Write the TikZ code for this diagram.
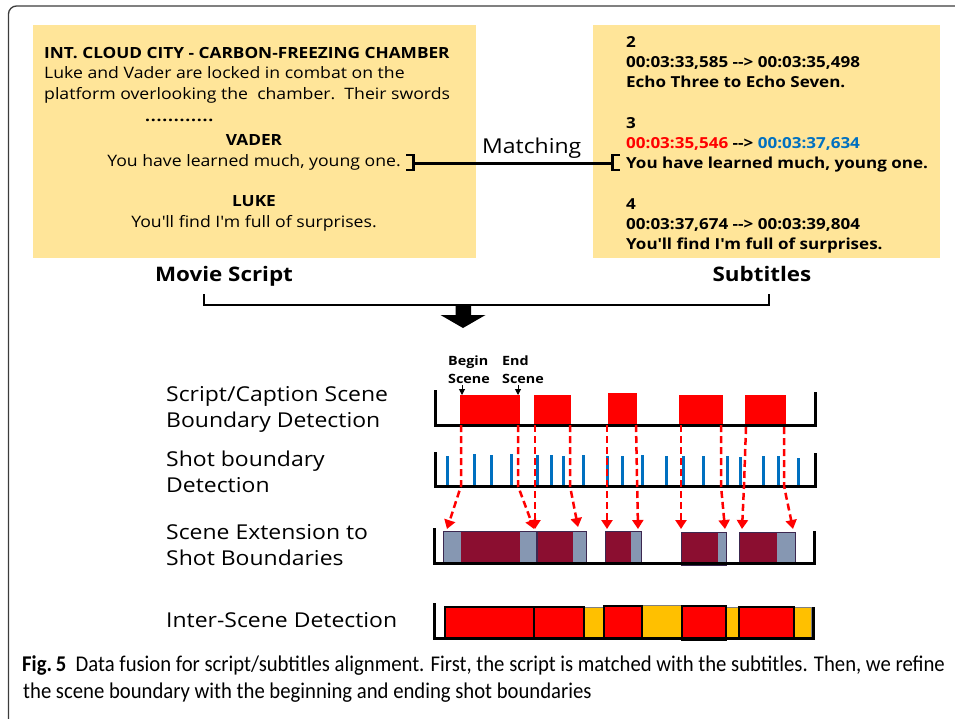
\documentclass[tikz,border=0pt]{standalone}
\usepackage{fontspec}
\setmainfont{Open Sans}[FakeStretch=1.12]
\newfontfamily\capfont{Carlito}[FakeStretch=0.92]
\usetikzlibrary{arrows.meta}
\definecolor{boxyellow}{RGB}{255,229,153}
\definecolor{tickblue}{RGB}{0,112,192}
\definecolor{maroonx}{RGB}{139,14,48}
\definecolor{slatex}{RGB}{134,151,178}
\definecolor{goldx}{RGB}{255,192,0}
\definecolor{outlx}{RGB}{60,40,80}
\definecolor{framegray}{RGB}{60,60,60}
\definecolor{redx}{RGB}{255,0,0}
\newcommand{\q}{\textquotesingle}
\begin{document}
\begin{tikzpicture}[x=1pt,y=-1pt,
  txt/.style={inner sep=0pt, anchor=base west, font=\fontsize{15.75}{18}\selectfont},
  txtc/.style={inner sep=0pt, anchor=base, font=\fontsize{15.75}{18}\selectfont},
  btxt/.style={inner sep=0pt, anchor=base west, font=\fontsize{15.2}{18}\selectfont\bfseries},
  title/.style={inner sep=0pt, anchor=base, font=\fontsize{20}{24}\selectfont\bfseries},
  rowlabel/.style={inner sep=0pt, anchor=base west, font=\fontsize{20.5}{24}\selectfont},
  tiny/.style={inner sep=0pt, anchor=base west, font=\fontsize{12.8}{15}\selectfont\bfseries},
  frameline/.style={line width=3pt, line join=miter},
  tick/.style={tickblue, line width=3pt},
  dashred/.style={redx, line width=2.5pt, dash pattern=on 7pt off 4pt, -{Triangle[width=11pt,length=9pt]}},
  bracket/.style={line width=2.6pt},
  captxt/.style={inner sep=0pt, anchor=base west, font=\capfont\fontsize{22.5}{26}\selectfont}
]
\useasboundingbox (0,0) rectangle (955,718);
% outer frame
\draw[framegray, line width=1.3pt, rounded corners=8pt] (8.5,740) -- (8.5,6) -- (975,6);

% yellow boxes
\node (script) [fill=boxyellow, inner sep=0pt, minimum width=443pt, minimum height=233pt, anchor=north west] at (33,25) {};
\node (subs) [fill=boxyellow, inner sep=0pt, minimum width=347pt, minimum height=233pt, anchor=north west] at (593,25) {};

% script text
\node (s1) [btxt, font=\fontsize{15.4}{18}\selectfont\bfseries] at (44,58) {INT. CLOUD CITY - CARBON-FREEZING CHAMBER};
\node (s2) [txt] at (44,78) {Luke and Vader are locked in combat on the};
\node (s3) [txt] at (44,99) {platform overlooking the\ \ chamber.\ \ Their swords};
\node (s4) [txt, font=\fontsize{15.5}{18}\selectfont\bfseries] at (145,121) {\foreach \i in {1,...,12}{\makebox[5.75pt][l]{.}}};
\node (s5) [txtc, font=\fontsize{15.4}{18}\selectfont\bfseries] at (254,145) {VADER};
\node (s6) [txtc] at (254,166) {You have learned much, young one.};
\node (s7) [txtc, font=\fontsize{15.4}{18}\selectfont\bfseries] at (254,206) {LUKE};
\node (s8) [txtc] at (254,227) {You\q ll find I\q m full of surprises.};

% subtitles text
\node (t1) [btxt] at (626,47) {2};
\node (t2) [btxt] at (626,67) {00:03:33,585 -{}-> 00:03:35,498};
\node (t3) [btxt] at (626,87) {Echo Three to Echo Seven.};
\node (t4) [btxt] at (626,128) {3};
\node (t5) [btxt] at (626,148) {\textcolor{redx}{00:03:35,546} -{}-> \textcolor{tickblue}{00:03:37,634}};
\node (t6) [btxt] at (626,168) {You have learned much, young one.};
\node (t7) [btxt] at (626,209) {4};
\node (t8) [btxt] at (626,229) {00:03:37,674 -{}-> 00:03:39,804};
\node (t9) [btxt] at (626,249) {You\q ll find I\q m full of surprises.};

% matching connector
\draw[bracket] (406,155) -- (413.5,155) -- (413.5,170) -- (406,170);
\draw[bracket] (620,155) -- (612.5,155) -- (612.5,170) -- (620,170);
\coordinate (bl) at (413.5,163);
\coordinate (br) at (612.5,163);
\draw[line width=3pt] (bl) -- (br);
\node (match) [inner sep=0pt, anchor=base west, font=\fontsize{20.5}{24}\selectfont] at (482,153) {Matching};

% titles
\node (mtitle) [title] at (224,281) {Movie Script};
\node (stitle) [title] at (762,281) {Subtitles};

% bottom brace and block arrow
\draw[line width=1.2pt] (204,294) -- (204,305) -- (769,305) -- (769,294);
\fill (455.5,306) -- (471,306) -- (471,315) -- (485.5,315) -- (463,328) -- (440.5,315) -- (455.5,315) -- cycle;

% row labels
\node (l1a) [rowlabel] at (166,401) {Script/Caption Scene};
\node (l1b) [rowlabel] at (166,427) {Boundary Detection};
\node (l2a) [rowlabel] at (166,466) {Shot boundary};
\node (l2b) [rowlabel] at (166,492) {Detection};
\node (l3a) [rowlabel] at (166,539) {Scene Extension to};
\node (l3b) [rowlabel] at (166,565) {Shot Boundaries};
\node (l4) [rowlabel] at (166,627) {Inter-Scene Detection};

% begin/end scene
\node (bg1) [tiny] at (448,365) {Begin};
\node (bg2) [tiny] at (448,383) {Scene};
\node (en1) [tiny] at (502,365) {End};
\node (en2) [tiny] at (502,383) {Scene};
\draw[line width=1pt, -{Triangle[width=6pt,length=6pt]}] (462,385) -- (462,395);
\draw[line width=1pt, -{Triangle[width=6pt,length=6pt]}] (518,385) -- (518,395);

% row 1
\fill[redx] (460,395) rectangle (520,425);
\fill[redx] (534,395) rectangle (571,425);
\fill[redx] (608,393) rectangle (637,425);
\fill[redx] (679,395) rectangle (723,425);
\fill[redx] (745,395) rectangle (786,427);
\draw[frameline] (435,390) -- (435,425) -- (815,425) -- (815,392);

% row 2
\foreach \x/\t in {447/456,474/454,491/455,511/454,537/455,551/455,563/456,583/455,607/456,622/456,642/455,666/456,683/456,703/456,727/456,740/457,763/456,778/456,798/458}
  \draw[tick] (\x,\t) -- (\x,486);
\draw[frameline] (435,452) -- (435,486) -- (815,486) -- (815,453);

% dashed connectors
\draw[dashred] (461,425) -- (461,486) -- (447,529);
\draw[dashred] (518,425) -- (518,486) -- (534,529);
\draw[dashred] (535,425) -- (535,529);
\draw[dashred] (570,425) -- (570,486) -- (578,527);
\draw[dashred] (607,425) -- (607,529);
\draw[dashred] (636,425) -- (638,529);
\draw[dashred] (681,425) -- (681,529);
\draw[dashred] (721,425) -- (721,486) -- (725,529);
\draw[dashred] (746,427) -- (744,486) -- (742,529);
\draw[dashred] (784,427) -- (784,486) -- (793,529);

% row 3
\filldraw[fill=slatex, draw=outlx, line width=1pt] (443,531) rectangle (536,563);
\fill[maroonx] (461,531.5) rectangle (520,562.5);
\filldraw[fill=slatex, draw=outlx, line width=1pt] (537,531) rectangle (586,563);
\fill[maroonx] (537.5,531.5) rectangle (573,562.5);
\filldraw[fill=slatex, draw=outlx, line width=1pt] (605,531) rectangle (641,563);
\fill[maroonx] (605.5,531.5) rectangle (631,562.5);
\filldraw[fill=slatex, draw=outlx, line width=1pt] (681,532) rectangle (726,565);
\fill[maroonx] (681.5,532.5) rectangle (718,564.5);
\filldraw[fill=slatex, draw=outlx, line width=1pt] (739,532) rectangle (795,563);
\fill[maroonx] (739.5,532.5) rectangle (777,562.5);
\draw[frameline] (434,528) -- (434,563) -- (814,563) -- (814,531);

% row 4
\filldraw[fill=goldx, draw=gray, line width=0.8pt] (584,607) rectangle (604,638);
\filldraw[fill=goldx, draw=gray, line width=0.8pt] (642,605) rectangle (682,638);
\filldraw[fill=goldx, draw=gray, line width=0.8pt] (726,607) rectangle (739,638);
\filldraw[fill=goldx, draw=gray, line width=0.8pt] (794,607) rectangle (811,638);
\filldraw[fill=redx, draw=black, line width=1.2pt] (445,607) rectangle (534,638);
\filldraw[fill=redx, draw=black, line width=1.2pt] (534,607) rectangle (584,638);
\filldraw[fill=redx, draw=black, line width=1.2pt] (604,606) rectangle (642,639);
\filldraw[fill=redx, draw=black, line width=1.2pt] (682,606) rectangle (726,640);
\filldraw[fill=redx, draw=black, line width=1.2pt] (739,607) rectangle (794,639);
\draw[frameline] (434,603) -- (434,638) -- (813,638) -- (813,607);

% caption
\node (cap1) [captxt] at (22,671) {\textbf{Fig.\,5}\ \ Data fusion for script/subtitles alignment. First, the script is matched with the subtitles. Then, we refine};
\node (cap2) [captxt] at (23,698) {the scene boundary with the beginning and ending shot boundaries};
\end{tikzpicture}
\end{document}
